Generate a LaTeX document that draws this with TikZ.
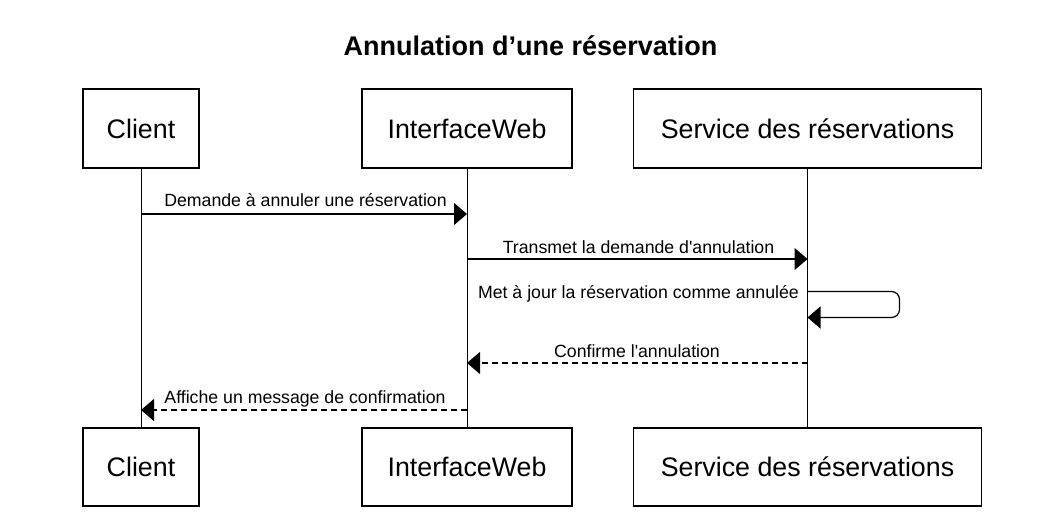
\documentclass[tikz,border=0pt]{standalone}
\usepackage{fontspec}
\setmainfont{Liberation Sans}[Ligatures=TeXOff]
\usetikzlibrary{arrows.meta}
\begin{document}
\begin{tikzpicture}[x=1pt,y=-1pt,
  actor/.style={draw=black,line width=1.2pt,inner sep=0pt,minimum height=79pt,
    font=\fontsize{26.8}{31}\selectfont,text height=19.2pt,text depth=0pt},
  life/.style={line width=1pt},
  msg/.style={line width=1.2pt,-{Triangle[length=13pt,width=22pt]}},
  ret/.style={msg,dash pattern=on 6pt off 4pt},
  lbl/.style={font=\fontsize{17.7}{20}\selectfont,inner sep=0pt,anchor=base}]
\useasboundingbox (0,0) rectangle (1054,514);
\fill[white] (0,0) rectangle (1054,514);
\node[font=\bfseries\fontsize{27}{32}\selectfont,inner sep=0pt,anchor=base] (title) at (530.5,55) {Annulation d’une réservation};
% top actors
\node[actor,minimum width=116pt] (c1) at (141,128.5) {Client};
\node[actor,minimum width=210pt] (w1) at (467,128.5) {InterfaceWeb};
\node[actor,minimum width=348pt] (s1) at (807.5,128.5) {Service des réservations};
% bottom actors
\node[actor,minimum width=116pt,minimum height=78pt] (c2) at (141,467) {Client};
\node[actor,minimum width=210pt,minimum height=78pt] (w2) at (467,467) {InterfaceWeb};
\node[actor,minimum width=348pt,minimum height=78pt] (s2) at (807.5,467) {Service des réservations};
% lifelines
\draw[life] (c1.south) -- (c2.north);
\draw[life] (w1.south) -- (w2.north);
\draw[life] (s1.south) -- (s2.north);
% message anchor points
\coordinate (a1) at (c1.south |- 0,214);
\coordinate (b1) at (w1.south |- 0,214);
\coordinate (a2) at (w1.south |- 0,259);
\coordinate (b2) at (s1.south |- 0,259);
\coordinate (a3) at (s1.south |- 0,291.5);
\coordinate (b3) at (s1.south |- 0,317.5);
\coordinate (a4) at (s1.south |- 0,363);
\coordinate (b4) at (w1.south |- 0,363);
\coordinate (a5) at (w1.south |- 0,410);
\coordinate (b5) at (c1.south |- 0,410);
% messages
\draw[msg] (a1) -- (b1);
\node[lbl] (l1) at (305.5,206.5) {Demande à annuler une réservation};
\draw[msg] (a2) -- (b2);
\node[lbl] (l2) at (638.5,253) {Transmet la demande d'annulation};
\draw[msg,rounded corners=8pt] (a3) -- ++(92,0) |- (b3);
\node[lbl,anchor=base east] (l3) at (799,298) {Met à jour la réservation comme annulée};
\draw[ret] (a4) -- (b4);
\node[lbl] (l4) at (637,357) {Confirme l'annulation};
\draw[ret] (a5) -- (b5);
\node[lbl] (l5) at (305,403) {Affiche un message de confirmation};
\end{tikzpicture}
\end{document}
